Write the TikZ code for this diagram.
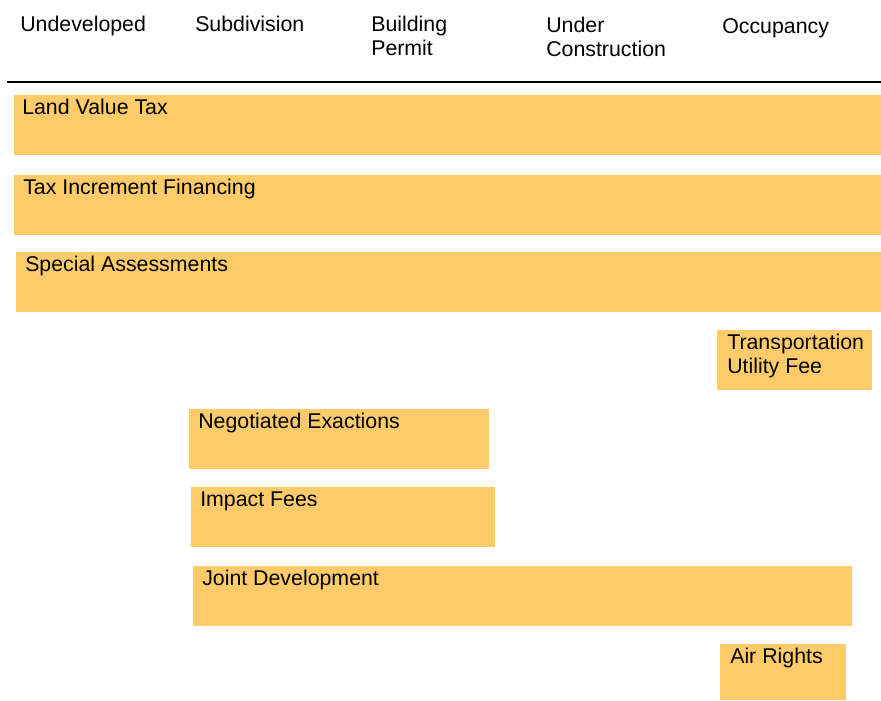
\documentclass[tikz,border=0pt]{standalone}
\usepackage{fontspec}
\setmainfont{Liberation Sans}
\definecolor{bandfill}{RGB}{254,203,106}

\begin{document}
\begin{tikzpicture}[x=0.75pt,y=-0.75pt,
  stage/.style={anchor=base west,inner sep=0pt,align=left,font=\fontsize{16}{18}\selectfont},
  tool/.style={anchor=base west,inner sep=0pt,align=left,font=\fontsize{16}{18}\selectfont},
  band/.style={fill=bandfill}]
  \useasboundingbox (0,0) rectangle (881,700);
  % stages of development
  \node[stage] (undev) at (20,31) {Undeveloped};
  \node[stage] (subdiv) at (195,31) {Subdivision};
  \node[stage] (permit) at (371,55) {Building\\Permit};
  \node[stage] (constr) at (546,56) {Under\\Construction};
  \node[stage] (occup) at (722,33) {Occupancy};
  \coordinate (rulel) at (7,82);
  \coordinate (ruler) at (881,82);
  \draw[line width=1.2pt] (rulel) -- (ruler);
  % funding tools
  \path[band] (14,95) rectangle (881,155);
  \node[tool] (lvt) at (22,114) {Land Value Tax};
  \path[band] (14,175) rectangle (881,235);
  \node[tool] (tif) at (23,194) {Tax Increment Financing};
  \path[band] (16,252) rectangle (881,312);
  \node[tool] (spa) at (25,271) {Special Assessments};
  \path[band] (717,330) rectangle (872,390);
  \node[tool] (tuf) at (727,373) {Transportation\\Utility Fee};
  \path[band] (189,409) rectangle (489,469);
  \node[tool] (nex) at (198,428) {Negotiated Exactions};
  \path[band] (191,487) rectangle (495,547);
  \node[tool] (imp) at (200,506) {Impact Fees};
  \path[band] (193,566) rectangle (852,626);
  \node[tool] (jdv) at (202,585) {Joint Development};
  \path[band] (720,644) rectangle (846,700);
  \node[tool] (air) at (730,663) {Air Rights};
\end{tikzpicture}
\end{document}
